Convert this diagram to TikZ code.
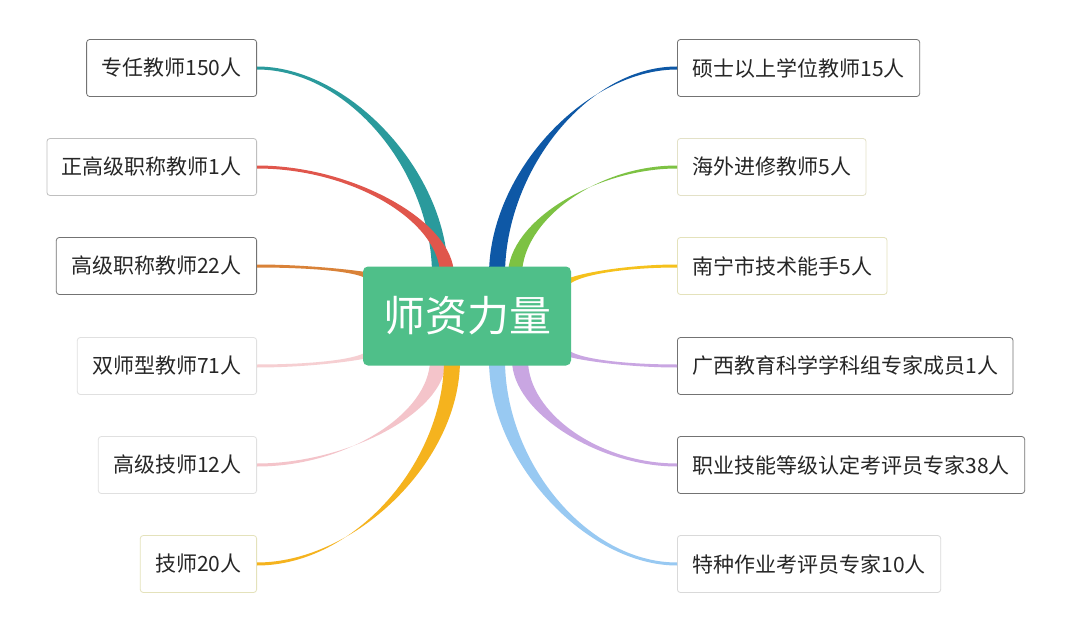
\documentclass[tikz,border=0pt]{standalone}
\usepackage{fontspec}
\usepackage{tikz}
\usetikzlibrary{calc}
\setmainfont{Noto Sans CJK SC}
\definecolor{cteal}{HTML}{2A9A9C}
\definecolor{cred}{HTML}{E0564C}
\definecolor{corange}{HTML}{D98238}
\definecolor{cpink}{HTML}{F6CFD2}
\definecolor{cpinkb}{HTML}{F4C4CA}
\definecolor{cyellow}{HTML}{F5B31E}
\definecolor{cblue}{HTML}{0E58A6}
\definecolor{cgreen}{HTML}{7DC243}
\definecolor{cgold}{HTML}{F5C11C}
\definecolor{clav}{HTML}{C9A6E2}
\definecolor{csky}{HTML}{98C9F2}
\definecolor{ccore}{HTML}{4FBF89}
\tikzset{
  leaf/.style={draw=#1,rounded corners=3pt,fill=white,minimum height=57pt,
    inner xsep=15pt,font=\fontsize{21}{21}\selectfont,text=black!85,line width=0.8pt},
  leaf/.default=black!55
}
% tapered branch: colour, box end, centre end, half width dx, dy
\newcommand{\branch}[5]{%
  \fill[#1] let \p1=(#2), \p2=(#3) in
    (\x1,\y1-1.5) .. controls ({(\x1+\x2)/2},\y1-1.5) and (\x2-#4,{(\y1+\y2)/2}) .. (\x2-#4,\y2-#5)
    -- (\x2+#4,\y2+#5)
    .. controls (\x2+#4,{(\y1+\y2)/2}) and ({(\x1+\x2)/2},\y1+1.5) .. (\x1,\y1+1.5) -- cycle;}

\begin{document}
\begin{tikzpicture}[x=1pt,y=-1pt]
\useasboundingbox (0,0) rectangle (1080,634);
\fill[white] (0,0) rectangle (1080,634);

% leaves on the left
\node[leaf,anchor=east] (l1) at (257,68) {专任教师150人};
\node[leaf=black!25,anchor=east] (l2) at (257,167) {正高级职称教师1人};
\node[leaf,anchor=east] (l3) at (257,266) {高级职称教师22人};
\node[leaf=black!12,anchor=east] (l4) at (257,366) {双师型教师71人};
\node[leaf=black!12,anchor=east] (l5) at (257,465) {高级技师12人};
\node[leaf=yellow!60!black!30,anchor=east] (l6) at (257,564) {技师20人};

% leaves on the right
\node[leaf,anchor=west] (r1) at (677,68) {硕士以上学位教师15人};
\node[leaf=yellow!50!black!25,anchor=west] (r2) at (677,167) {海外进修教师5人};
\node[leaf=yellow!60!black!30,anchor=west] (r3) at (677,266) {南宁市技术能手5人};
\node[leaf,anchor=west] (r4) at (677,366) {广西教育科学学科组专家成员1人};
\node[leaf,anchor=west] (r5) at (677,465) {职业技能等级认定考评员专家38人};
\node[leaf=black!15,anchor=west] (r6) at (677,564) {特种作业考评员专家10人};

% branch roots at the core
\coordinate (s1) at (440,275);
\coordinate (s2) at (447,275);
\coordinate (s3) at (370,278);
\coordinate (s4) at (370,352);
\coordinate (s5) at (438,360);
\coordinate (s6) at (452,360);
\coordinate (t1) at (497,275);
\coordinate (t2) at (515,275);
\coordinate (t3) at (565,286);
\coordinate (t4) at (565,350);
\coordinate (t5) at (520,360);
\coordinate (t6) at (497,360);

\branch{cteal}{l1.east}{s1}{8}{0}
\branch{cred}{l2.east}{s2}{7}{0}
\branch{corange}{l3.east}{s3}{0}{5}
\branch{cpink}{l4.east}{s4}{0}{5}
\branch{cpinkb}{l5.east}{s5}{8}{0}
\branch{cyellow}{l6.east}{s6}{8}{0}
\branch{cblue}{r1.west}{t1}{8}{0}
\branch{cgreen}{r2.west}{t2}{7}{0}
\branch{cgold}{r3.west}{t3}{0}{5}
\branch{clav}{r4.west}{t4}{0}{5}
\branch{clav}{r5.west}{t5}{8}{0}
\branch{csky}{r6.west}{t6}{8}{0}

\node[fill=ccore,rounded corners=5pt,minimum width=208pt,minimum height=99pt,
  text=white,font=\fontsize{42}{42}\selectfont] (core) at (467,316) {师资力量};
\end{tikzpicture}
\end{document}
